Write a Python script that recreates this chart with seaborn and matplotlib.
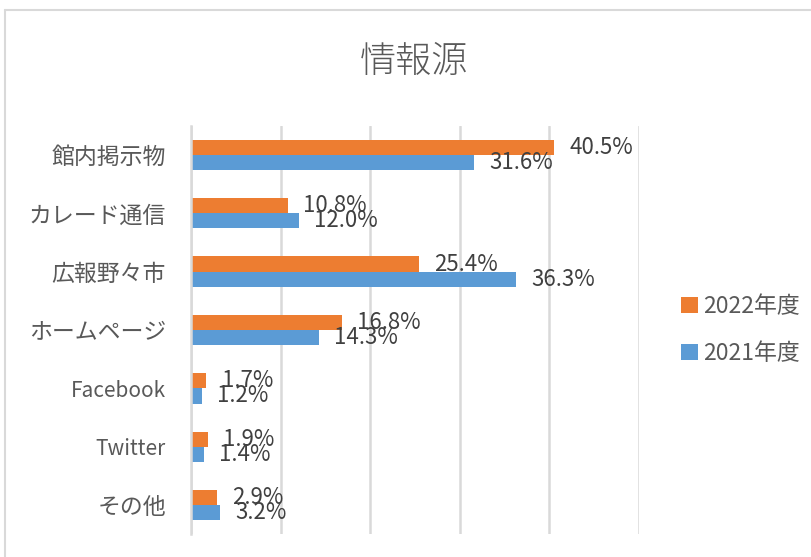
import matplotlib
matplotlib.use("Agg")
import matplotlib.pyplot as plt
import seaborn as sns
import pandas as pd
from matplotlib.lines import Line2D
from matplotlib.patches import Patch

categories = ["館内掲示物", "カレード通信", "広報野々市", "ホームページ", "Facebook", "Twitter", "その他"]
years = ["2022年度", "2021年度"]
values_2022 = [40.5, 10.8, 25.4, 16.8, 1.7, 1.9, 2.9]
values_2021 = [31.6, 12.0, 36.3, 14.3, 1.2, 1.4, 3.2]
title = "情報源"
colors = ["#ED7D31", "#5B9BD5"]

df = pd.DataFrame({
    "category": categories * 2,
    "year": [years[0]] * len(categories) + [years[1]] * len(categories),
    "value": values_2022 + values_2021,
})

sns.set_theme(style="white")
plt.rcParams['font.family'] = ['Noto Sans CJK JP', 'DejaVu Sans']

fig = plt.figure(figsize=(8.11, 5.57), dpi=100)
ax = fig.add_axes([191/811, 1-534.3/557, 448/811, (534.3-125.7)/557])

sns.barplot(data=df, y="category", x="value", hue="year", hue_order=years,
            order=categories, palette=colors, width=0.52, orient="h",
            ax=ax, legend=False, linewidth=0, saturation=1)

ax.set_xlim(0, 50)
ax.set_xticks([0, 10, 20, 30, 40, 50])
ax.set_xticklabels([])
ax.grid(axis="x", color="#D9D9D9", linewidth=1.8)
ax.set_axisbelow(True)
for s in ["top", "right", "bottom"]:
    ax.spines[s].set_visible(False)
ax.spines["left"].set_color("#D9D9D9")
ax.spines["left"].set_linewidth(1.8)
ax.tick_params(axis="both", length=0)
ax.tick_params(axis="y", pad=18, labelsize=16.5, labelcolor="#595959")
for t in ax.get_yticklabels():
    if t.get_text() in ("Facebook", "Twitter"):
        t.set_fontsize(15)
ax.set_xlabel("")
ax.set_ylabel("")

for cont in ax.containers:
    ax.bar_label(cont, labels=[f"{v:.1f}%" for v in cont.datavalues],
                 padding=11, fontsize=16, color="#404040")

fig.text(414/811, 1-62/557, title, ha="center", va="center",
         fontsize=26, color="#595959", fontweight="light")

handles = [Patch(facecolor=c, edgecolor="none") for c in colors]
fig.legend(handles, years, loc="center left", bbox_to_anchor=(660/811, 1-330/557),
           frameon=False, fontsize=16.5, labelcolor="#595959",
           handlelength=0.75, handleheight=0.75, handletextpad=0.25,
           labelspacing=1.05)

fig.add_artist(Line2D([5/811, 5/811], [0, 1-10/557], color="#D9D9D9", linewidth=1.5))
fig.add_artist(Line2D([5/811, 1], [1-10/557, 1-10/557], color="#D9D9D9", linewidth=1.5))

fig.savefig("out.png", dpi=100)
